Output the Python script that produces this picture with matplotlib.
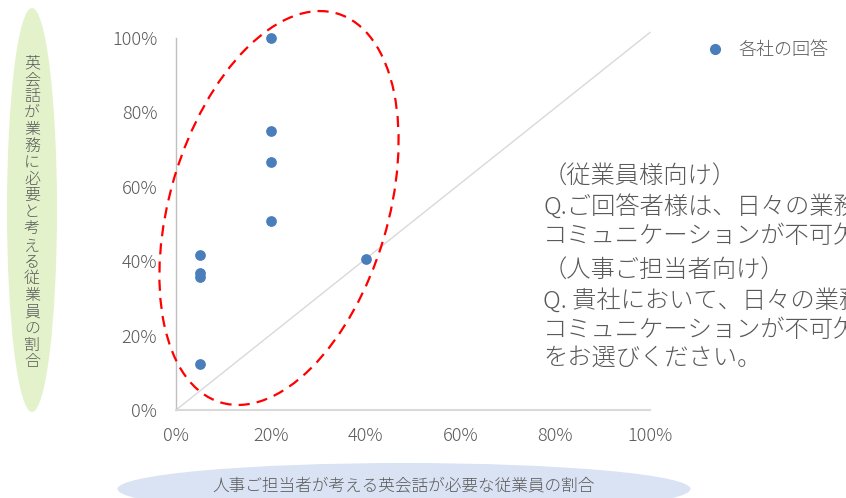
import matplotlib
matplotlib.use("Agg")
import matplotlib.pyplot as plt
from matplotlib.patches import Ellipse
from matplotlib.lines import Line2D
from matplotlib.ticker import PercentFormatter

plt.rcParams['font.family'] = ['Noto Sans CJK JP', 'DejaVu Sans']
plt.rcParams['font.weight'] = 'light'

# share of staff needing English, as judged by HR (x) and by the staff themselves (y)
hr_share = [0.05, 0.05, 0.05, 0.05, 0.20, 0.20, 0.20, 0.20, 0.40]
staff_share = [0.125, 0.357, 0.367, 0.417, 0.508, 0.667, 0.75, 1.00, 0.407]

ticks = [0, 0.2, 0.4, 0.6, 0.8, 1.0]
series_name = "各社の回答"
x_title = "人事ご担当者が考える英会話が必要な従業員の割合"
y_title = "英会話が業務に必要と考える従業員の割合"
note_staff = ["（従業員様向け）",
              "Q.ご回答者様は、日々の業務で英語での",
              "コミュニケーションが不可欠ですか。"]
note_hr = ["（人事ご担当者向け）",
           "Q. 貴社において、日々の業務で英語での",
           "コミュニケーションが不可欠な従業員の割合",
           "をお選びください。"]

W, H = 846, 498
TXT = '#595959'
BLUE = '#4a7ebb'


def fx(px):
    return px / W


def fy(py):
    return 1 - py / H


fig = plt.figure(figsize=(W / 100, H / 100), dpi=100)
ax = fig.add_axes([fx(176), fy(410), fx(650) - fx(176), fy(38) - fy(410)])

ax.plot([0, 1], [0, 1.015], color='#d9d9d9', lw=1, clip_on=False, zorder=1)
ax.scatter(hr_share, staff_share, s=45, color=BLUE, zorder=3, clip_on=False)

ax.set_xlim(0, 1)
ax.set_ylim(0, 1)
ax.set_xticks(ticks)
ax.set_yticks(ticks)
ax.xaxis.set_major_formatter(PercentFormatter(1.0, decimals=0))
ax.yaxis.set_major_formatter(PercentFormatter(1.0, decimals=0))
ax.tick_params(length=0, labelsize=13, labelcolor=TXT)
ax.tick_params(axis='x', pad=12)
ax.tick_params(axis='y', pad=13.5)
for s in ['top', 'right']:
    ax.spines[s].set_visible(False)
ax.spines['left'].set_color('#bfbfbf')
ax.spines['left'].set_linewidth(1)
ax.spines['bottom'].set_color('#d9d9d9')
ax.spines['bottom'].set_linewidth(1.5)

# red dashed ring around the answers (drawn in figure inches)
ring = Ellipse((279 / 100, (H - 208) / 100), 2.18, 4.06, angle=-16.7,
               transform=fig.dpi_scale_trans, fill=False, edgecolor='#ff0000',
               lw=1.6, linestyle=(0, (5, 3.2)), zorder=4)
fig.patches.append(ring)

# legend
handle = Line2D([], [], marker='o', ls='', color=BLUE, markersize=7)
fig.legend([handle], [series_name], loc='center left',
           bbox_to_anchor=(fx(681), fy(50)), frameon=False,
           fontsize=13, labelcolor=TXT, handletextpad=0.3)

# axis titles on coloured ovals
fig.patches.append(Ellipse((32 / 100, (H - 210) / 100), 0.50, 4.04,
                           transform=fig.dpi_scale_trans,
                           facecolor='#e3f2cb', edgecolor='none', zorder=0))
for i, ch in enumerate(y_title):
    fig.text(fx(32), fy(63 + i * 16.6), ch, ha='center', va='center',
             fontsize=11.5, color=TXT)

fig.patches.append(Ellipse((404 / 100, (H - 489) / 100), 5.73, 0.52,
                           transform=fig.dpi_scale_trans,
                           facecolor='#dae3f3', edgecolor='none', zorder=0))
fig.text(fx(404), fy(487), x_title, ha='center', va='center',
         fontsize=12, color=TXT)

# question wording, runs off the right edge
for line, py in zip(note_staff, [177, 207, 236]):
    fig.text(fx(543), fy(py), line, ha='left', va='center', fontsize=17.5, color=TXT)
for line, py in zip(note_hr, [271, 301, 330, 358]):
    fig.text(fx(543), fy(py), line, ha='left', va='center', fontsize=17.5, color=TXT)

fig.savefig("out.png", dpi=100)
